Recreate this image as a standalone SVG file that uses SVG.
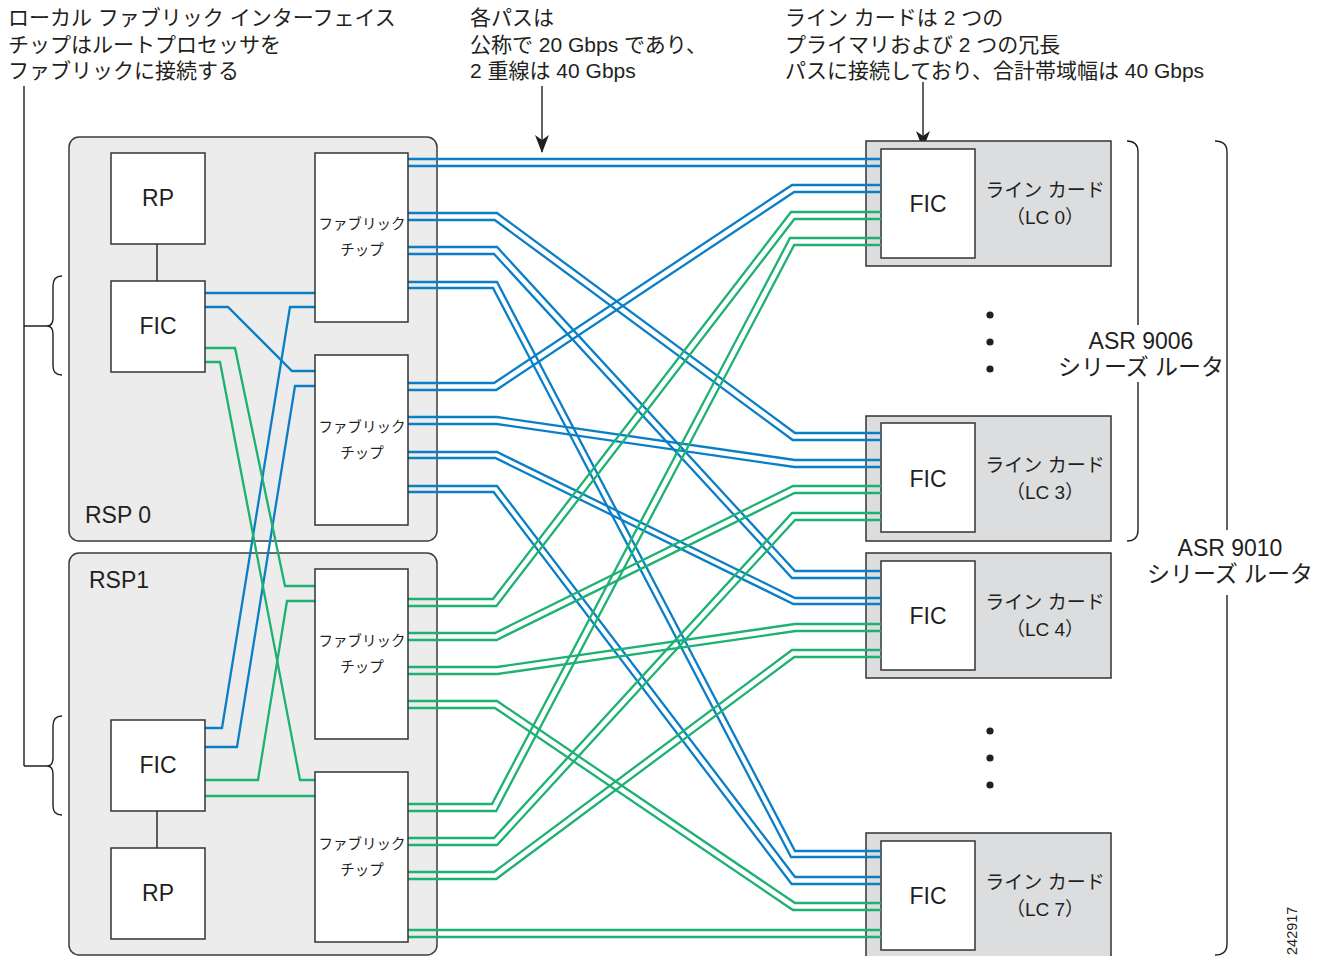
<svg xmlns="http://www.w3.org/2000/svg" width="1319" height="956" viewBox="0 0 1319 956">
<style>
text{font-family:"Liberation Sans","Noto Sans CJK JP",sans-serif;fill:#231f20}
.rsp{fill:#ececec;stroke:#3c3c3c;stroke-width:1.5}
.lc{fill:#dcdddf;stroke:#333;stroke-width:1.5}
.box{fill:#fff;stroke:#333;stroke-width:1.5}
.b{fill:none;stroke:#0a7fc6;stroke-width:2.3}
.g{fill:none;stroke:#1db172;stroke-width:2.3}
.k{fill:none;stroke:#231f20;stroke-width:1.4}
.ann{font-size:21px}
.big{font-size:23px}
.chip{font-size:14.5px;text-anchor:middle}
.mid{text-anchor:middle}
.lct{font-size:19px;text-anchor:middle}
</style>
<defs>
<marker id="ah" viewBox="0 0 18 14" refX="17" refY="7" markerWidth="18" markerHeight="14" markerUnits="userSpaceOnUse" orient="auto">
<path d="M0,0 L5,7 L0,14 L18,7 Z" fill="#231f20"/>
</marker>
</defs>

<!-- annotations -->
<g id="annotations">
<text class="ann" x="8" y="25">ローカル ファブリック インターフェイス</text>
<text class="ann" x="8" y="52">チップはルートプロセッサを</text>
<text class="ann" x="8" y="78">ファブリックに接続する</text>
<text class="ann" x="470" y="25">各パスは</text>
<text class="ann" x="470" y="52">公称で 20 Gbps であり、</text>
<text class="ann" x="470" y="78">2 重線は 40 Gbps</text>
<text class="ann" x="785" y="25">ライン カードは 2 つの</text>
<text class="ann" x="785" y="52">プライマリおよび 2 つの冗長</text>
<text class="ann" x="785" y="78">パスに接続しており、合計帯域幅は 40 Gbps</text>
<path class="k" d="M542,86 V152" marker-end="url(#ah)"/>
<path class="k" d="M923,82 V148" marker-end="url(#ah)"/>
<path class="k" d="M24,86 V766 M24,326 H47 M24,766 H47"/>
<path class="k" d="M62,276 Q53,276 53,286 V318 Q53,326 47,326 Q53,326 53,334 V366 Q53,375 62,375"/>
<path class="k" d="M62,716 Q53,716 53,726 V758 Q53,766 47,766 Q53,766 53,774 V806 Q53,815 62,815"/>
<path class="k" d="M1127,141 Q1138,141 1138,152 V325 M1138,382 V530 Q1138,541 1127,541"/>
<path class="k" d="M1215,141 Q1227,141 1227,152 V530 M1227,595 V944 Q1227,955 1215,955"/>
<text class="big mid" x="1141" y="349">ASR 9006</text>
<text class="big mid" x="1141" y="375">シリーズ ルータ</text>
<text class="big mid" x="1230" y="556">ASR 9010</text>
<text class="big mid" x="1230" y="582">シリーズ ルータ</text>
<text font-size="14.5" transform="translate(1297,955) rotate(-90)">242917</text>
<circle cx="990" cy="315" r="3.6" fill="#231f20"/>
<circle cx="990" cy="342" r="3.6" fill="#231f20"/>
<circle cx="990" cy="369" r="3.6" fill="#231f20"/>
<circle cx="990" cy="731" r="3.6" fill="#231f20"/>
<circle cx="990" cy="758" r="3.6" fill="#231f20"/>
<circle cx="990" cy="785" r="3.6" fill="#231f20"/>
</g>

<!-- containers -->
<g id="rsp0">
<rect class="rsp" x="69" y="137" width="368" height="404" rx="10"/>
<text class="big" x="85" y="523">RSP 0</text>
</g>
<g id="rsp1">
<rect class="rsp" x="69" y="553" width="368" height="402" rx="10"/>
<text class="big" x="89" y="588">RSP1</text>
</g>
<g id="lc0">
<rect class="lc" x="866" y="141" width="245" height="125"/>
<rect class="box" x="881" y="149" width="94" height="109"/>
<text class="big mid" x="928" y="212">FIC</text>
<text class="lct" x="1045" y="197">ライン カード</text>
<text class="lct" x="1045" y="224">（LC 0）</text>
</g>
<g id="lc3">
<rect class="lc" x="866" y="416" width="245" height="125"/>
<rect class="box" x="881" y="423" width="94" height="109"/>
<text class="big mid" x="928" y="487">FIC</text>
<text class="lct" x="1045" y="472">ライン カード</text>
<text class="lct" x="1045" y="499">（LC 3）</text>
</g>
<g id="lc4">
<rect class="lc" x="866" y="553" width="245" height="125"/>
<rect class="box" x="881" y="561" width="94" height="109"/>
<text class="big mid" x="928" y="624">FIC</text>
<text class="lct" x="1045" y="609">ライン カード</text>
<text class="lct" x="1045" y="636">（LC 4）</text>
</g>
<g id="lc7">
<rect class="lc" x="866" y="833" width="245" height="130"/>
<rect class="box" x="881" y="841" width="94" height="109"/>
<text class="big mid" x="928" y="904">FIC</text>
<text class="lct" x="1045" y="889">ライン カード</text>
<text class="lct" x="1045" y="916">（LC 7）</text>
</g>

<!-- connectors -->
<g id="connectors">
<path class="k" d="M157,244 V281 M157,811 V848" stroke-width="2.2"/>
<!-- RSP internal -->
<path class="b" d="M205,293 H315"/>
<path class="b" d="M205,307 H228 L292,371 H315"/>
<path class="b" d="M315,307 H290 L222,728 H205"/>
<path class="b" d="M315,386 H295 L237,747 H205"/>
<path class="g" d="M205,348 H235 L285,586 H315"/>
<path class="g" d="M205,362 H220 L300,780 H315"/>
<path class="g" d="M205,780 H258 L287,601 H315"/>
<path class="g" d="M205,796 H315"/>
<!-- chip 1 -->
<path class="b" d="M408,159 H881 M408,166 H881"/>
<path class="b" d="M408,213 H497 L795,433 H881 M408,220 H494.7 L792.7,440 H881"/>
<path class="b" d="M408,247 H497 L795,571 H881 M408,254 H494 L792,578 H881"/>
<path class="b" d="M408,282 H497 L795,851 H881 M408,288 H493 L791,857 H881"/>
<!-- chip 2 -->
<path class="b" d="M408,383 H494 L792,185 H881 M408,390 H496.2 L794.2,192 H881"/>
<path class="b" d="M408,417 H497 L795,460 H881 M408,424 H496.5 L794.5,467 H881"/>
<path class="b" d="M408,452 H497 L795,598 H881 M408,458 H495.4 L793.4,604 H881"/>
<path class="b" d="M408,486 H497 L795,877 H881 M408,492 H493.6 L791.6,884 H881"/>
<!-- chip 3 -->
<path class="g" d="M408,599 H493 L791,212 H881 M408,606 H496.4 L794.4,219 H881"/>
<path class="g" d="M408,633 H495 L793,486 H881 M408,640 H496.6 L794.6,493 H881"/>
<path class="g" d="M408,667 H497 L795,624 H881 M408,674 H497.5 L795.5,631 H881"/>
<path class="g" d="M408,701 H497 L795,903 H881 M408,708 H494.9 L792.9,910 H881"/>
<!-- chip 4 -->
<path class="g" d="M408,804 H492 L790,238 H881 M408,811 H496.2 L794.2,245 H881"/>
<path class="g" d="M408,838 H494 L792,513 H881 M408,845 H497.1 L795.1,520 H881"/>
<path class="g" d="M408,872 H494 L792,650 H881 M408,879 H496.3 L794.3,657 H881"/>
<path class="g" d="M408,930 H881 M408,937 H881"/>
</g>

<!-- inner nodes -->
<g id="rp0"><rect class="box" x="111" y="153" width="94" height="91"/><text class="big mid" x="158" y="206">RP</text></g>
<g id="fic0"><rect class="box" x="111" y="281" width="94" height="91"/><text class="big mid" x="158" y="334">FIC</text></g>
<g id="chip1"><rect class="box" x="315" y="153" width="93" height="169"/><text class="chip" x="362" y="229">ファブリック</text><text class="chip" x="362" y="255">チップ</text></g>
<g id="chip2"><rect class="box" x="315" y="355" width="93" height="170"/><text class="chip" x="362" y="432">ファブリック</text><text class="chip" x="362" y="458">チップ</text></g>
<g id="chip3"><rect class="box" x="315" y="569" width="93" height="170"/><text class="chip" x="362" y="646">ファブリック</text><text class="chip" x="362" y="672">チップ</text></g>
<g id="chip4"><rect class="box" x="315" y="772" width="93" height="170"/><text class="chip" x="362" y="849">ファブリック</text><text class="chip" x="362" y="875">チップ</text></g>
<g id="fic1"><rect class="box" x="111" y="720" width="94" height="91"/><text class="big mid" x="158" y="773">FIC</text></g>
<g id="rp1"><rect class="box" x="111" y="848" width="94" height="91"/><text class="big mid" x="158" y="901">RP</text></g>
</svg>
